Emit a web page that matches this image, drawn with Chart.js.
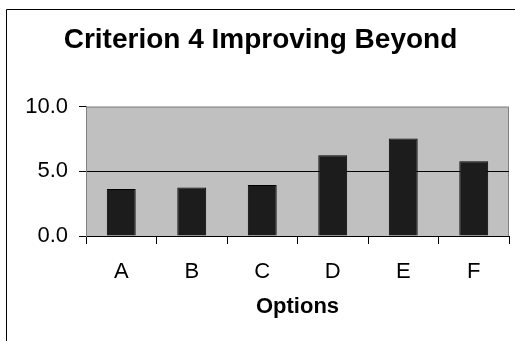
<!DOCTYPE html>
<html>
<head>
<meta charset="utf-8">
<style>
  html, body { margin: 0; padding: 0; background: #ffffff; }
  #wrap { width: 515px; height: 341px; position: relative; }
  canvas { display: block; }
</style>
<script src="https://cdn.jsdelivr.net/npm/chart.js@4/dist/chart.umd.min.js"></script>
</head>
<body>
<div id="wrap"><canvas id="chart" width="515" height="341"></canvas></div>
<script>
const categories = ['A', 'B', 'C', 'D', 'E', 'F'];
const scores = [3.63, 3.74, 3.94, 6.24, 7.53, 5.78];
const yTicks = [0, 5, 10];

const FONT = "'Liberation Sans', Arial, Helvetica, sans-serif";

// Grey plot background, grey top/right edge, and the outer frame lines
const frame = {
  id: 'frame',
  beforeDraw(chart) {
    const { ctx, chartArea: a } = chart;
    ctx.save();
    ctx.fillStyle = '#ffffff';
    ctx.fillRect(0, 0, chart.width, chart.height);
    ctx.strokeStyle = '#000000';
    ctx.lineWidth = 1;
    ctx.beginPath();
    ctx.moveTo(6.5, chart.height);
    ctx.lineTo(6.5, 9.5);
    ctx.lineTo(chart.width, 9.5);
    ctx.stroke();
    ctx.fillStyle = '#c0c0c0';
    ctx.fillRect(a.left, a.top, a.right - a.left, a.bottom - a.top);
    ctx.strokeStyle = '#808080';
    ctx.beginPath();
    ctx.moveTo(a.left, a.top + 0.5);
    ctx.lineTo(a.right - 0.5, a.top + 0.5);
    ctx.lineTo(a.right - 0.5, a.bottom);
    ctx.stroke();
    ctx.restore();
  }
};

new Chart(document.getElementById('chart'), {
  type: 'bar',
  data: {
    labels: categories,
    datasets: [{
      data: scores,
      backgroundColor: '#1c1c1c',
      borderColor: '#000000',
      borderWidth: 1,
      barPercentage: 0.41,
      categoryPercentage: 1.0
    }]
  },
  options: {
    responsive: false,
    animation: false,
    devicePixelRatio: 1,
    layout: { padding: { left: 12, right: 6, top: 0, bottom: 0 } },
    plugins: {
      legend: { display: false },
      tooltip: { enabled: false },
      title: {
        display: true,
        text: 'Criterion 4 Improving Beyond',
        color: '#000000',
        font: { family: FONT, size: 28, weight: 'bold', lineHeight: 1.2 },
        padding: { top: 23, bottom: 50 }
      }
    },
    scales: {
      x: {
        type: 'category',
        offset: true,
        afterFit(scale) { scale.height = 105; },
        grid: {
          offset: true,
          drawOnChartArea: false,
          drawTicks: true,
          tickLength: 8,
          tickColor: '#000000'
        },
        border: { color: '#000000', width: 1 },
        ticks: {
          color: '#000000',
          padding: 15,
          font: { family: FONT, size: 22 }
        },
        title: {
          display: true,
          text: 'Options',
          color: '#000000',
          font: { family: FONT, size: 22, weight: 'bold', lineHeight: 1.2 },
          padding: { top: 0, bottom: 21 }
        }
      },
      y: {
        min: 0,
        max: 10,
        afterFit(scale) { scale.width = 74; },
        afterBuildTicks(scale) { scale.ticks = yTicks.map(v => ({ value: v })); },
        grid: {
          color: ctx => (ctx.tick && ctx.tick.value === 5 ? '#000000' : 'rgba(0,0,0,0)'),
          tickColor: '#000000',
          tickLength: 7,
          drawTicks: true
        },
        border: { color: '#808080', width: 1 },
        ticks: {
          color: '#000000',
          padding: 11,
          font: { family: FONT, size: 22 },
          callback: v => Number(v).toFixed(1)
        }
      }
    }
  },
  plugins: [frame]
});
</script>
</body>
</html>
